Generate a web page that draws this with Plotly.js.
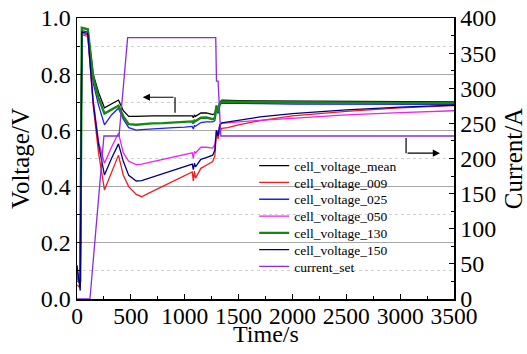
<!DOCTYPE html>
<html>
<head>
<meta charset="utf-8">
<script src="https://cdn.plot.ly/plotly-3.0.1.min.js"></script>
<style>html,body{margin:0;padding:0;background:#fff;}#chart{width:527px;height:354px;}</style>
</head>
<body>
<div id="chart"></div>
<script>
// Time axis for the voltage series (s)
const timeV = [0, 30, 45, 100, 150, 200, 255, 320, 385, 430, 480, 550, 600, 700, 800, 900, 1000, 1070, 1080, 1090, 1100, 1150, 1200, 1260, 1280, 1295, 1310, 1325, 1345, 1400, 1500, 1700, 2000, 2500, 3000, 3500];

const cellVoltageMean = [0.08, 0.05, 0.965, 0.96, 0.80, 0.735, 0.68, 0.695, 0.708, 0.67, 0.650, 0.650, 0.651, 0.652, 0.652, 0.652, 0.653, 0.652, 0.645, 0.655, 0.650, 0.662, 0.662, 0.656, 0.660, 0.688, 0.670, 0.700, 0.708, 0.707, 0.706, 0.705, 0.704, 0.703, 0.702, 0.701];
const cellVoltage009 = [0.05, 0.04, 0.945, 0.94, 0.69, 0.52, 0.388, 0.45, 0.512, 0.44, 0.40, 0.372, 0.364, 0.383, 0.402, 0.420, 0.439, 0.452, 0.420, 0.455, 0.430, 0.465, 0.476, 0.489, 0.51, 0.60, 0.57, 0.60, 0.607, 0.610, 0.620, 0.635, 0.652, 0.668, 0.680, 0.688];
const cellVoltage025 = [0.10, 0.05, 0.955, 0.95, 0.77, 0.69, 0.62, 0.655, 0.679, 0.64, 0.61, 0.601, 0.603, 0.606, 0.608, 0.610, 0.612, 0.614, 0.605, 0.617, 0.615, 0.628, 0.630, 0.630, 0.635, 0.68, 0.66, 0.69, 0.697, 0.697, 0.696, 0.695, 0.694, 0.694, 0.693, 0.693];
const cellVoltage050 = [0.06, 0.08, 0.94, 0.935, 0.71, 0.56, 0.483, 0.54, 0.590, 0.52, 0.49, 0.478, 0.480, 0.488, 0.497, 0.505, 0.514, 0.520, 0.500, 0.525, 0.520, 0.540, 0.540, 0.537, 0.55, 0.60, 0.58, 0.62, 0.625, 0.626, 0.630, 0.636, 0.644, 0.655, 0.663, 0.670];
const cellVoltage130 = [0.08, 0.06, 0.965, 0.96, 0.79, 0.715, 0.66, 0.675, 0.688, 0.65, 0.622, 0.620, 0.622, 0.625, 0.626, 0.628, 0.630, 0.632, 0.625, 0.635, 0.633, 0.645, 0.646, 0.640, 0.645, 0.688, 0.665, 0.695, 0.703, 0.703, 0.702, 0.701, 0.700, 0.699, 0.698, 0.697];
const cellVoltage150 = [0.12, 0.03, 0.95, 0.945, 0.70, 0.55, 0.441, 0.50, 0.552, 0.49, 0.44, 0.420, 0.421, 0.434, 0.446, 0.459, 0.472, 0.480, 0.460, 0.483, 0.470, 0.497, 0.503, 0.512, 0.53, 0.60, 0.58, 0.62, 0.627, 0.630, 0.637, 0.648, 0.660, 0.673, 0.683, 0.690];

// Current set-point (A)
const timeI = [0, 120, 250, 390, 470, 1288, 1295, 1310, 1335, 3500];
const currentSet = [0, 0, 232, 232, 372, 372, 310, 310, 232, 232];

const seriesNames = ['cell_voltage_mean', 'cell_voltage_009', 'cell_voltage_025', 'cell_voltage_050', 'cell_voltage_130', 'cell_voltage_150'];
const seriesValues = [cellVoltageMean, cellVoltage009, cellVoltage025, cellVoltage050, cellVoltage130, cellVoltage150];
const seriesColors = ['#000000', '#ee1c1c', '#1f1fee', '#ee22ee', '#128a12', '#000080'];
const seriesWidths = [1.3, 1.3, 1.3, 1.3, 2.4, 1.3];

const FONT = '"Liberation Serif", "Times New Roman", serif';

const traces = seriesNames.map((n, i) => ({
  type: 'scatter', mode: 'lines', name: n,
  x: timeV, y: seriesValues[i],
  line: {color: seriesColors[i], width: seriesWidths[i]},
  yaxis: 'y'
}));
traces.push({
  type: 'scatter', mode: 'lines', name: 'current_set',
  x: timeI, y: currentSet,
  line: {color: '#8a2be2', width: 1.3},
  yaxis: 'y2'
});

const layout = {
  width: 527, height: 354,
  margin: {l: 77, r: 73, t: 18, b: 55},
  paper_bgcolor: '#ffffff', plot_bgcolor: '#ffffff',
  font: {family: FONT, color: '#000', size: 24},
  showlegend: true,
  legend: {
    x: 0.47, y: 0.529, xanchor: 'left', yanchor: 'top',
    bgcolor: 'rgba(0,0,0,0)', borderwidth: 0,
    font: {family: FONT, size: 13.5, color: '#000'},
    tracegroupgap: 0
  },
  xaxis: {
    range: [0, 3500], dtick: 500, tick0: 0,
    ticks: 'inside', ticklen: 5, tickwidth: 1, tickcolor: '#000',
    minor: {dtick: 250, ticks: 'inside', ticklen: 3, tickcolor: '#000'},
    showline: true, linecolor: '#000', linewidth: 1.5, mirror: true,
    showgrid: false, zeroline: false,
    tickfont: {family: FONT, size: 23.5},
    ticklabelstandoff: -5,
    automargin: false
  },
  yaxis: {
    range: [0, 1], dtick: 0.2, tick0: 0, tickformat: '.1f',
    ticks: 'inside', ticklen: 5, tickwidth: 1, tickcolor: '#000',
    minor: {dtick: 0.1, ticks: 'inside', ticklen: 3, tickcolor: '#000', showgrid: true, gridcolor: '#d0d0d0', griddash: 'dot', gridwidth: 1},
    showline: true, linecolor: '#000', linewidth: 1.5, mirror: false,
    showgrid: true, gridcolor: '#a8a8a8', gridwidth: 1, zeroline: false,
    tickfont: {family: FONT, size: 24},
    title: {text: 'Voltage/V', font: {family: FONT, size: 25}, standoff: 4},
    automargin: false
  },
  yaxis2: {
    range: [0, 400], dtick: 50, tick0: 0,
    overlaying: 'y', side: 'right',
    ticks: 'inside', ticklen: 5, tickwidth: 1, tickcolor: '#000',
    minor: {dtick: 25, ticks: 'inside', ticklen: 3, tickcolor: '#000'},
    showline: true, linecolor: '#000', linewidth: 1.5,
    showgrid: false, zeroline: false,
    tickfont: {family: FONT, size: 24},
    title: {text: 'Current/A', font: {family: FONT, size: 25}, standoff: 14},
    automargin: false
  },
  shapes: [
    {type: 'line', xref: 'x', yref: 'y', x0: 910, x1: 910, y0: 0.718, y1: 0.663, line: {color: '#000', width: 1.2}},
    {type: 'line', xref: 'x', yref: 'y', x0: 3055, x1: 3055, y0: 0.573, y1: 0.519, line: {color: '#000', width: 1.2}}
  ],
  annotations: [
    {xref: 'paper', yref: 'paper', x: 0.5, y: -0.126, xanchor: 'center', yanchor: 'middle', text: 'Time/s', showarrow: false, font: {family: FONT, size: 24, color: '#000'}},
    {xref: 'x', yref: 'y', axref: 'x', ayref: 'y', x: 610, y: 0.718, ax: 910, ay: 0.718, text: '', showarrow: true, arrowhead: 2, arrowsize: 1.2, arrowwidth: 1.2, arrowcolor: '#000'},
    {xref: 'x', yref: 'y', axref: 'x', ayref: 'y', x: 3370, y: 0.519, ax: 3055, ay: 0.519, text: '', showarrow: true, arrowhead: 2, arrowsize: 1.2, arrowwidth: 1.2, arrowcolor: '#000'}
  ]
};

Plotly.newPlot('chart', traces, layout, {displayModeBar: false, staticPlot: true}).then(function (gd) {
  // tighten legend row spacing to match the reference (~16.8 px per row)
  const items = gd.querySelectorAll('.legend .traces');
  if (!items.length) return;
  const m = /translate\(\s*([-\d.]+)[ ,]+([-\d.]+)\s*\)/.exec(items[0].getAttribute('transform') || '');
  if (!m) return;
  const x0 = parseFloat(m[1]), y0 = parseFloat(m[2]);
  items.forEach(function (el, i) {
    el.setAttribute('transform', 'translate(' + x0 + ',' + (y0 + i * 16.8) + ')');
  });
});
</script>
</body>
</html>
